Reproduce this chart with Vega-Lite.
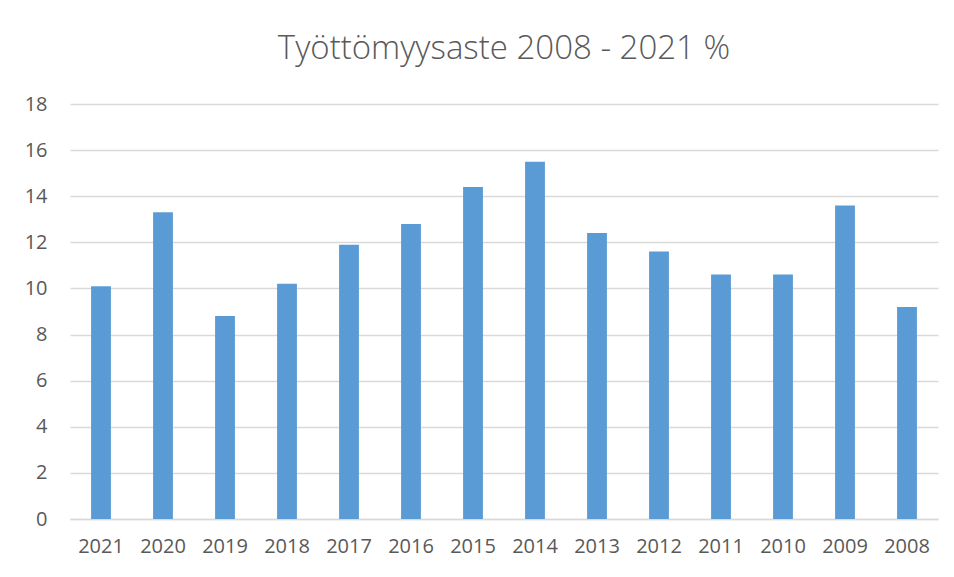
{
  "$schema": "https://vega.github.io/schema/vega-lite/v6.json",
  "width": 868,
  "height": 415,
  "autosize": {"type": "none"},
  "padding": {"left": 70, "top": 104, "right": 16, "bottom": 58},
  "background": "white",
  "title": {
    "text": "Työttömyysaste 2008 - 2021 %",
    "font": "Open Sans",
    "fontSize": 33,
    "fontWeight": 300,
    "color": "#595959",
    "anchor": "middle",
    "offset": 28
  },
  "data": {
    "values": [
      {"year": "2021", "value": 10.1},
      {"year": "2020", "value": 13.3},
      {"year": "2019", "value": 8.8},
      {"year": "2018", "value": 10.2},
      {"year": "2017", "value": 11.9},
      {"year": "2016", "value": 12.8},
      {"year": "2015", "value": 14.4},
      {"year": "2014", "value": 15.5},
      {"year": "2013", "value": 12.4},
      {"year": "2012", "value": 11.6},
      {"year": "2011", "value": 10.6},
      {"year": "2010", "value": 10.6},
      {"year": "2009", "value": 13.6},
      {"year": "2008", "value": 9.2}
    ]
  },
  "mark": {"type": "bar", "color": "#5B9BD5"},
  "encoding": {
    "x": {
      "field": "year",
      "type": "nominal",
      "sort": null,
      "scale": {"paddingInner": 0.68, "paddingOuter": 0.34},
      "axis": {
        "title": null,
        "labelAngle": 0,
        "labelFont": "Open Sans",
        "labelFontSize": 20,
        "labelColor": "#595959",
        "labelPadding": 17,
        "ticks": false,
        "domainColor": "#D9D9D9",
        "domainWidth": 1.5
      }
    },
    "y": {
      "field": "value",
      "type": "quantitative",
      "scale": {"domain": [0, 18]},
      "axis": {
        "title": null,
        "values": [0, 2, 4, 6, 8, 10, 12, 14, 16, 18],
        "labelFont": "Open Sans",
        "labelFontSize": 20,
        "labelColor": "#595959",
        "labelPadding": 23,
        "ticks": false,
        "domain": false,
        "gridColor": "#D9D9D9",
        "gridWidth": 1.5
      }
    }
  },
  "config": {"view": {"stroke": null}}
}
